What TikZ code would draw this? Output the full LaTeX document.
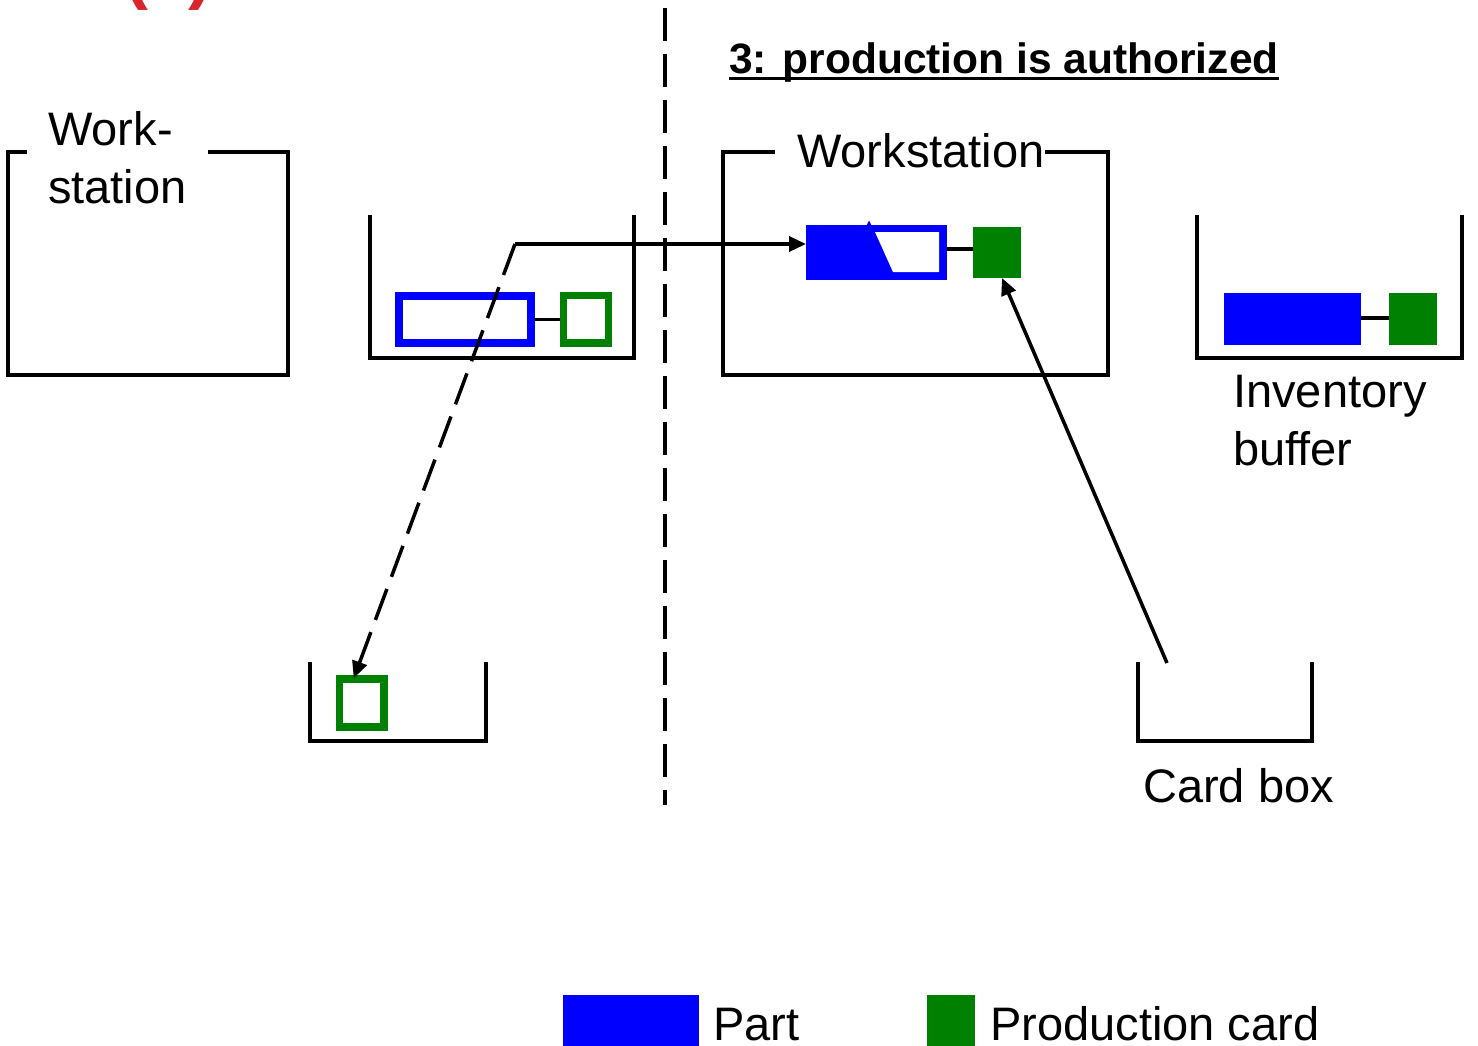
\documentclass[tikz,border=0pt]{standalone}
\usepackage{fontspec}
\setmainfont{Liberation Sans}
\usetikzlibrary{arrows.meta}
\definecolor{partblue}{RGB}{0,0,255}
\definecolor{cardgreen}{RGB}{0,128,0}
\definecolor{markred}{RGB}{218,37,43}

\begin{document}
\begin{tikzpicture}[x=1pt,y=-1pt,
  frame/.style={line width=3.5pt, line join=miter},
  lbl/.style={font=\fontsize{47}{58}\selectfont, inner sep=0pt, anchor=base west, align=left},
  partout/.style={draw=partblue, line width=8pt, inner sep=0pt},
  cardout/.style={draw=cardgreen, line width=7.5pt, inner sep=0pt},
  partsolid/.style={fill=partblue, inner sep=0pt, outer sep=0pt},
  cardsolid/.style={fill=cardgreen, inner sep=0pt, outer sep=0pt},
  link/.style={line width=3.5pt},
  flow/.style={line width=3.5pt, -{Triangle[length=17pt,width=15pt]}},
  dashflow/.style={flow, dash pattern=on 33pt off 13pt},
  divider/.style={line width=3.5pt, dash pattern=on 33pt off 13pt}
]
\useasboundingbox (0,0) rectangle (1478,1045);

% slide marker, mostly outside the page
\node[font=\fontsize{72}{80}\selectfont\bfseries, text=markred, anchor=base, inner sep=0pt] (mark) at (168,-5) {(c)};

% divider between the two stages
\coordinate (divtop) at (665,8);
\coordinate (divbot) at (665,805);
\draw[divider] (divtop) -- (divbot);

% heading
\node[font=\fontsize{42.5}{50}\selectfont\bfseries, inner sep=0pt, anchor=base west] (title) at (729,73) {3: production is authorized};
\draw[line width=3pt] (title.west |- 0,78) -- (title.east |- 0,78);

% upstream workstation
\draw[frame] (27,152) -- (8,152) -- (8,375) -- (288,375) -- (288,152) -- (208,152);
\node[lbl] (wsleft) at (48,203) {Work-\\station};

% downstream workstation
\draw[frame] (775,152) -- (723,152) -- (723,375) -- (1108,375) -- (1108,152) -- (1045,152);
\node[lbl] (wsright) at (797,167) {Workstation};

% inventory between the stations
\draw[frame] (370,215) -- (370,358) -- (634,358) -- (634,215);
\node[partout, minimum width=132pt, minimum height=47.5pt] (partM) at (465,319.25) {};
\node[cardout, minimum width=45pt, minimum height=47.5pt] (cardM) at (586,319.25) {};
\draw[link] (partM.east) -- (cardM.west);

% part being processed, with its card
\node[partsolid, minimum width=141pt, minimum height=55pt] (partW) at (876.5,252.5) {};
\fill[white] (875,232) -- (939,232) -- (939,272) -- (893,272) -- cycle;
\fill[partblue] (866.5,225.5) -- (869,220.5) -- (871.5,225.5) -- cycle;
\node[cardsolid, minimum width=48pt, minimum height=51pt] (cardW) at (997,252.5) {};
\draw[link] (partW.east |- 0,249) -- (cardW.west |- 0,249);

% inventory buffer
\draw[frame] (1197,215) -- (1197,358) -- (1462,358) -- (1462,215);
\node[partsolid, minimum width=137pt, minimum height=52pt] (partI) at (1292.5,319) {};
\node[cardsolid, minimum width=48pt, minimum height=52pt] (cardI) at (1413,319) {};
\draw[link] (partI.east |- 0,318) -- (cardI.west |- 0,318);
\node[lbl] (invlbl) at (1233,465) {Inventory\\buffer};

% card box of the upstream station
\draw[frame] (310,662) -- (310,741) -- (486,741) -- (486,662);
\node[cardout, minimum width=44.5pt, minimum height=48pt] (cardB) at (361.75,703) {};

% card box of the downstream station
\draw[frame] (1138,662) -- (1138,741) -- (1312,741) -- (1312,662);
\node[lbl] (cblbl) at (1143,802) {Card box};
\coordinate (cbout) at (1167,663);

% card and part movements
\coordinate (bend) at (515,244);
\draw[dashflow] (bend) -- ([xshift=-8pt,yshift=-3pt]cardB.north);
\draw[flow] (bend) -- (bend -| partW.west);
\draw[flow] (cbout) -- ([xshift=5pt]cardW.south);

% legend
\node[partsolid, minimum width=136pt, minimum height=60pt] (legpart) at (631,1025) {};
\node[lbl, text depth=0pt] (legpartlbl) at (713,1040) {Part};
\node[cardsolid, minimum width=48pt, minimum height=60pt] (legcard) at (951,1025) {};
\node[lbl, text depth=0pt] (legcardlbl) at (990,1040) {Production card};
\end{tikzpicture}
\end{document}
